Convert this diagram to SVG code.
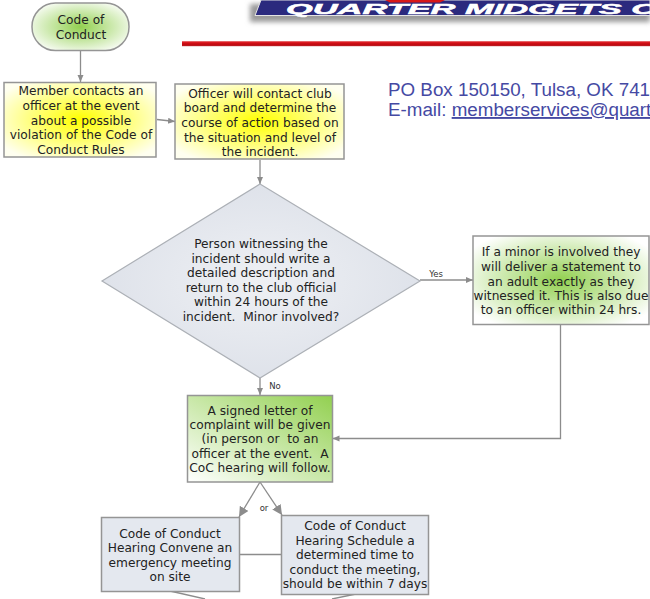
<svg xmlns="http://www.w3.org/2000/svg" width="650" height="599" viewBox="0 0 650 599">
<style>
.n{stroke:#959595;stroke-width:1.5}
.t{font-family:"DejaVu Sans",Verdana,sans-serif;font-size:12.200px;fill:#222;text-anchor:middle;white-space:pre}
.l{font-family:"DejaVu Sans",Verdana,sans-serif;font-size:8.500px;fill:#333;text-anchor:middle}
.c{fill:none;stroke:#8c8c8c;stroke-width:1.300}
.a{font-family:"Liberation Sans",Arial,sans-serif;font-size:18.800px;fill:#4549a3}
</style>
<defs>
<radialGradient id="gr" r=".62"><stop offset="0" stop-color="#92d050"/><stop offset="1" stop-color="#fff"/></radialGradient>
<radialGradient id="yr" r=".62"><stop offset="0" stop-color="#ffff00"/><stop offset="1" stop-color="#fffff0"/></radialGradient>
<radialGradient id="br" r=".55"><stop offset="0" stop-color="#eef0f4"/><stop offset="1" stop-color="#dde1e9"/></radialGradient>
<linearGradient id="gl" x1="0" y1="1" x2="1" y2="0"><stop offset="0" stop-color="#fff"/><stop offset="1" stop-color="#92d050"/></linearGradient>
<linearGradient id="rl" x1="0" y1="0" x2="0" y2="1"><stop offset="0" stop-color="#e88"/><stop offset=".3" stop-color="#d80f16"/><stop offset=".8" stop-color="#b80a10"/><stop offset="1" stop-color="#e8b0b0"/></linearGradient>
<filter id="blur" x="-5%" y="-100%" width="110%" height="300%"><feGaussianBlur stdDeviation="2.500"/></filter>
<marker id="m" markerWidth="8" markerHeight="8" refX="7" refY="3" orient="auto" markerUnits="userSpaceOnUse"><path d="M0 0L7 3L0 6z" fill="#8c8c8c"/></marker>
<marker id="M" markerWidth="12" markerHeight="12" refX="10" refY="5" orient="auto" markerUnits="userSpaceOnUse"><path d="M0 0L10 5L0 10z" fill="#8c8c8c"/></marker>
</defs>
<g id="logo">
<polygon points="250,4 650,4 650,22 250,22" fill="#9a9a9a" filter="url(#blur)"/>
<polygon points="255,15.500 261,0 650,0 650,15.500" fill="#2b2a7e" stroke="#e4e4e4" stroke-width="1"/>
<polygon points="385,0 445,0 440,2.500 390,2.500" fill="#d81818"/>
<text x="286" y="14" font-family="Liberation Sans,Arial,sans-serif" font-size="14.500" font-weight="700" font-style="italic" fill="#fff" stroke="#fff" stroke-width=".5" textLength="372" lengthAdjust="spacingAndGlyphs">QUARTER MIDGETS O</text>
<rect x="182" y="41" width="468" height="5.500" fill="url(#rl)"/>
</g>
<g id="contact">
<text class="a" x="388" y="96">PO Box 150150, Tulsa, OK 741</text>
<text class="a" x="388" y="116">E-mail: <tspan text-decoration="underline">memberservices@quart</tspan></text>
</g>
<g id="connectors">
<path class="c" d="M80.500 51V82" marker-end="url(#m)"/>
<path class="c" d="M157 119.500L175 121.500" marker-end="url(#m)"/>
<path class="c" d="M260 160V184" marker-end="url(#m)"/>
<path class="c" d="M420 280H473" marker-end="url(#m)"/>
<path class="c" d="M260 378V395" marker-end="url(#m)"/>
<path class="c" d="M560.500 325V438.500H332.500" marker-end="url(#m)"/>
<path class="c" d="M260 482L239 517" marker-end="url(#M)"/>
<path class="c" d="M260 482L282 515" marker-end="url(#M)"/>
<path class="c" d="M239 554.500H282" stroke="#b5b5b5"/>
<path class="c" d="M170 591L205 599"/>
<path class="c" d="M356 594L332 599"/>
<text class="l" x="436" y="277">Yes</text>
<text class="l" x="275" y="389">No</text>
<text class="l" x="264" y="511">or</text>
</g>
<g id="start">
<rect class="n" x="32" y="3" width="97" height="47.500" rx="23.500" fill="url(#gr)"/>
<text class="t" x="81" y="24">Code of</text><text class="t" x="81" y="39">Conduct</text>
</g>
<g id="member">
<rect class="n" x="4" y="82.500" width="152" height="74.500" fill="url(#yr)"/>
<text class="t" x="81" y="95">Member contacts an</text><text class="t" x="81" y="110">officer at the event</text><text class="t" x="81" y="125">about a possible</text><text class="t" x="81" y="139">violation of the Code of</text><text class="t" x="81" y="154">Conduct Rules</text>
</g>
<g id="officer">
<rect class="n" x="175" y="84" width="169" height="75" fill="url(#yr)"/>
<text class="t" x="260" y="97.500">Officer will contact club</text><text class="t" x="260" y="112">board and determine the</text><text class="t" x="260" y="127">course of action based on</text><text class="t" x="260" y="141.500">the situation and level of</text><text class="t" x="260" y="156">the incident.</text>
</g>
<g id="decision">
<polygon points="260,184 420,281 260,378 102,281" fill="url(#br)" stroke="#acb0b6" stroke-width="1.200"/>
<text class="t" x="261" y="248">Person witnessing the</text><text class="t" x="261" y="262.500">incident should write a</text><text class="t" x="261" y="277">detailed description and</text><text class="t" x="261" y="291.500">return to the club official</text><text class="t" x="261" y="306">within 24 hours of the</text><text class="t" x="261" y="320.500">incident.  Minor involved?</text>
</g>
<g id="minor">
<rect class="n" x="473" y="236" width="176" height="88.500" fill="url(#gr)"/>
<text class="t" x="561" y="256">If a minor is involved they</text><text class="t" x="561" y="271">will deliver a statement to</text><text class="t" x="561" y="285.500">an adult exactly as they</text><text class="t" x="561" y="300">witnessed it. This is also due</text><text class="t" x="561" y="314">to an officer within 24 hrs.</text>
</g>
<g id="letter">
<rect class="n" x="187.500" y="395.500" width="145" height="86.500" fill="url(#gl)"/>
<text class="t" x="260" y="414.500">A signed letter of</text><text class="t" x="260" y="429">complaint will be given</text><text class="t" x="260" y="443">(in person or  to an</text><text class="t" x="260" y="458">officer at the event.  A</text><text class="t" x="260" y="472">CoC hearing will follow.</text>
</g>
<g id="convene">
<rect class="n" x="101.500" y="517.500" width="138" height="74" fill="#e4e8ef"/>
<text class="t" x="170" y="538">Code of Conduct</text><text class="t" x="170" y="552">Hearing Convene an</text><text class="t" x="170" y="567">emergency meeting</text><text class="t" x="170" y="581">on site</text>
</g>
<g id="schedule">
<rect class="n" x="281.500" y="515.500" width="147" height="79" fill="#e4e8ef"/>
<text class="t" x="355" y="530">Code of Conduct</text><text class="t" x="355" y="545">Hearing Schedule a</text><text class="t" x="355" y="559">determined time to</text><text class="t" x="355" y="574">conduct the meeting,</text><text class="t" x="355" y="588">should be within 7 days</text>
</g>
</svg>
